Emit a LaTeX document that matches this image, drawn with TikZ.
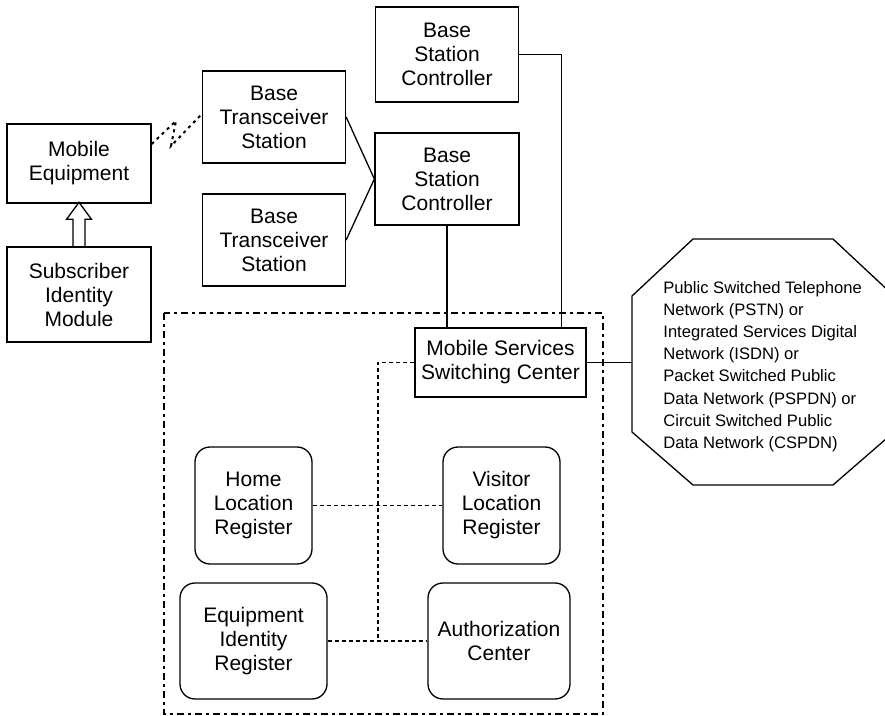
\documentclass[tikz,border=0pt]{standalone}
\usepackage{fontspec}
\setmainfont{Liberation Sans}
\usepackage{tikz}
\usetikzlibrary{positioning,arrows.meta}

\begin{document}
\begin{tikzpicture}[
		x=0.5pt,y=-0.5pt,
		station box/.style={draw=black,line width=0.65pt,align=center,inner sep=0pt,
			font=\fontsize{10.5}{12}\selectfont,minimum width=71.5pt,minimum height=46pt},
		register box/.style={station box,rounded corners=7.5pt,minimum width=58.5pt,minimum height=58.5pt},
		wire/.style={line width=0.65pt},
		signal line/.style={line width=0.55pt,dash pattern=on 2pt off 1.5pt},
		radio link/.style={line width=1pt,dash pattern=on 1.5pt off 2pt},
		core frame/.style={line width=1.25pt,dash pattern=on 3.5pt off 2pt on 1.5pt off 2pt},
		network text/.style={font=\fontsize{8.3}{11.1}\selectfont,align=left,inner sep=0pt}
	]
	\useasboundingbox (0,0) rectangle (885,716);

	% Mobile station: equipment and its subscriber card.
	\node[station box,minimum width=72pt,minimum height=39.5pt] (ME) at (79,163.5) {Mobile\\Equipment};
	\node[station box,minimum width=72pt,minimum height=47.5pt] (SIM) at (79,294.5) {Subscriber\\Identity\\Module};
	\draw[line width=0.65pt] ([xshift=-3pt]SIM.north) -- ++(0,-27) -- ++(-6.5,0) -- ++(12.5,-17)
		-- ++(12.5,17) -- ++(-6.5,0) -- ++(0,27);

	% Base station subsystem.
	\node[station box] (BTS1) at (274,117) {Base\\Transceiver\\Station};
	\node[station box] (BTS2) at (274,240) {Base\\Transceiver\\Station};
	\node[station box,minimum height=47.5pt] (BSCa) at (447,54.5) {Base\\Station\\Controller};
	\node[station box,minimum width=72pt] (BSCb) at (447,179) {Base\\Station\\Controller};

	% Air interface between handset and transceiver.
	\coordinate (air1) at (176,121);
	\coordinate (air2) at (171,146);
	\draw[radio link] ([yshift=9.75pt]ME.east) -- (air1) -- (air2) -- ([yshift=1.5pt]BTS1.west);

	\draw[wire] (BTS1.east) -- (BSCb.west);
	\draw[wire] (BTS2.east) -- (BSCb.west);

	% Network switching subsystem.
	\draw[core frame] (164,313) rectangle (603,714);
	\node[station box,minimum width=85.5pt,minimum height=34.5pt] (MSC) at (500.5,362.5) {Mobile Services\\Switching Center};
	\node[register box] (HLR) at (253.5,505.5) {Home\\Location\\Register};
	\node[register box] (VLR) at (501.5,505.5) {Visitor\\Location\\Register};
	\node[register box,minimum width=73.5pt,minimum height=58pt] (EIR) at (253.5,641) {Equipment\\Identity\\Register};
	\node[register box,minimum width=71pt,minimum height=58pt] (AuC) at (499,641) {Authorization\\Center};

	\draw[wire] (BSCb.south) -- (BSCb.south |- MSC.north);
	\draw[wire] (BSCa.east) -| ([xshift=-12.5pt]MSC.north east);

	\coordinate (bus) at (378,641);
	\draw[signal line] (MSC.west) -| (bus);
	\draw[signal line] (HLR.east) -- (VLR.west);
	\draw[signal line] (EIR.east) -- (AuC.west);

	% Fixed networks reached through the switching center.
	\draw[wire] (632,296) -- (693,239) -- (833,239) -- (894,296) -- (894,432)
		-- (833,485) -- (693,485) -- (632,432) -- cycle;
	\coordinate (pstn) at (632,362.5);
	\draw[wire] (MSC.east) -- (MSC.east -| pstn);
	\node[network text,anchor=west] (nets) at (663,366.5)
		{Public Switched Telephone\\Network (PSTN) or\\Integrated Services Digital\\Network (ISDN) or\\Packet Switched Public\\Data Network (PSPDN) or\\Circuit Switched Public\\Data Network (CSPDN)};
\end{tikzpicture}
\end{document}
